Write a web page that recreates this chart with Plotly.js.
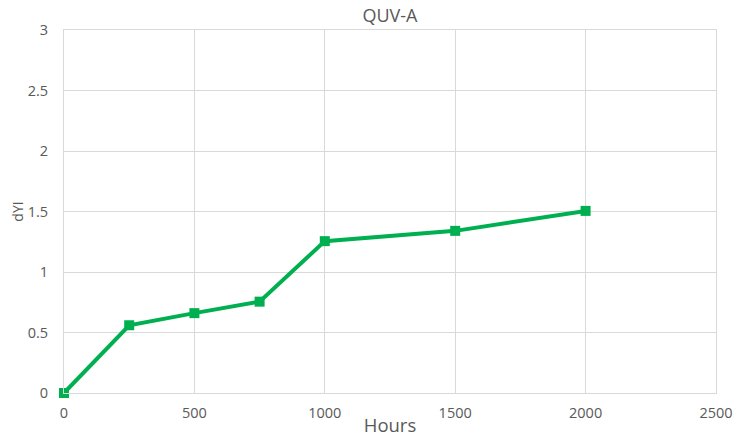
<!DOCTYPE html>
<html>
<head>
<meta charset="utf-8">
<script src="https://cdn.plot.ly/plotly-3.0.1.min.js"></script>
<style>html,body{margin:0;padding:0;background:#fff;}#chart{width:733px;height:437px;}</style>
</head>
<body>
<div id="chart"></div>
<script>
const hours = [0, 250, 500, 750, 1000, 1500, 2000];
const dYI = [0, 0.56, 0.66, 0.755, 1.255, 1.34, 1.505];
const xTicks = [0, 500, 1000, 1500, 2000, 2500];
const yTicks = [0, 0.5, 1, 1.5, 2, 2.5, 3];

const green = '#00B050';
const textGray = '#595959';
const gridGray = '#d9d9d9';
const font = 'Open Sans, Lato, sans-serif';

Plotly.newPlot('chart', [{
  x: hours, y: dYI, type: 'scatter', mode: 'lines+markers',
  line: {color: green, width: 4},
  marker: {color: green, symbol: 'square', size: 10},
  cliponaxis: false
}], {
  width: 733, height: 437,
  margin: {l: 64, r: 17, t: 30, b: 44},
  paper_bgcolor: '#fff', plot_bgcolor: '#fff',
  showlegend: false,
  title: {text: 'QUV-A', x: 0.532, xanchor: 'center', y: 0.965, yanchor: 'middle', font: {family: font, size: 18, color: textGray}},
  xaxis: {
    range: [0, 2500], tickvals: xTicks, ticktext: xTicks.map(String),
    showgrid: true, gridcolor: gridGray, gridwidth: 1, zeroline: false,
    showline: true, linecolor: gridGray, linewidth: 1, mirror: true,
    ticks: '', ticklabelstandoff: 7, tickfont: {family: font, size: 14.5, color: textGray},
    title: {text: 'Hours', font: {family: font, size: 18.5, color: textGray}, standoff: 0}
  },
  yaxis: {
    range: [0, 3], tickvals: yTicks, ticktext: yTicks.map(String),
    showgrid: true, gridcolor: gridGray, gridwidth: 1, zeroline: false,
    showline: true, linecolor: gridGray, linewidth: 1, mirror: true,
    ticks: '', ticklabelstandoff: 12, tickfont: {family: font, size: 14.5, color: textGray},
    title: {text: 'dYI', font: {family: font, size: 14, color: textGray}, standoff: 0}
  }
}, {staticPlot: true, displayModeBar: false});
</script>
</body>
</html>
